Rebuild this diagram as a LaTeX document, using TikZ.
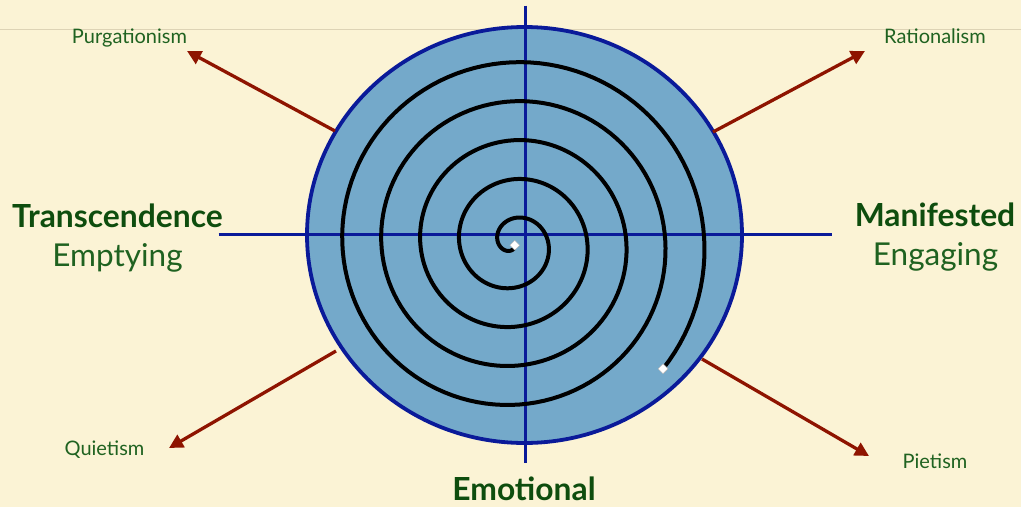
\documentclass[tikz,border=0pt]{standalone}
\usepackage{fontspec}
\setmainfont{Lato}
\usetikzlibrary{arrows.meta,shapes.geometric}
\definecolor{bg}{HTML}{FBF3D5}
\definecolor{rule}{HTML}{DDD3B5}
\definecolor{disc}{HTML}{74A9CA}
\definecolor{navy}{HTML}{0A1A99}
\definecolor{arrowred}{HTML}{8E1400}
\definecolor{greenA}{HTML}{1F6220}
\definecolor{greenB}{HTML}{0E4D0E}
\tikzset{
  smalllabel/.style={anchor=base, inner sep=0pt, text=greenA, font=\fontsize{20}{24}\selectfont},
  biglabel/.style={anchor=base, inner sep=0pt, text=greenA, font=\fontsize{31.5}{36}\selectfont},
  boldlabel/.style={anchor=base, inner sep=0pt, text=greenB, font=\fontsize{31.8}{36}\selectfont\bfseries},
  ray/.style={draw=arrowred, line width=3.3pt, -{Triangle[length=14pt,width=14pt]}},
  axis/.style={draw=navy, line width=3pt},
  marker/.style={diamond, draw=gray!60, fill=white, inner sep=0pt, minimum size=10pt, line width=0.4pt}
}
\begin{document}
\begin{tikzpicture}[x=1pt,y=-1pt]
\useasboundingbox (0,0) rectangle (1021,507);
\fill[bg] (0,0) rectangle (1021,507);
\draw[rule, line width=1.5pt] (0,29.5) -- (1021,29.5);

% disc
\filldraw[fill=disc, draw=navy, line width=3.8pt] (524.5,235) ellipse [x radius=217.5, y radius=208];

% axes
\coordinate (hl) at (218.5,234.3);
\coordinate (hr) at (832,234.3);
\coordinate (vt) at (525.8,5.7);
\coordinate (vb) at (525.8,463);
\draw[axis] (hl) -- (hr);
\draw[axis] (vt) -- (vb);

% spiral
\draw[black, line width=4pt, line join=round, line cap=round]
  plot[domain=60:1840, samples=600, variable=\t]
  ({513.6+0.108333*(\t-38.8)*cos(\t)}, {243.3+0.108333*(\t-38.8)*sin(\t)});
\node[marker] (sstart) at ({513.6+0.108333*(60-38.8)*cos(60)}, {243.3+0.108333*(60-38.8)*sin(60)}) {};
\node[marker] (send) at ({513.6+0.108333*(1840-38.8)*cos(40)}, {243.3+0.108333*(1840-38.8)*sin(40)}) {};

% arrows
\coordinate (purgS) at (335,131);
\coordinate (purgT) at (187,51);
\coordinate (ratS) at (713,132);
\coordinate (ratT) at (865,51);
\coordinate (quiS) at (336,351);
\coordinate (quiT) at (169,448);
\coordinate (pieS) at (702,359);
\coordinate (pieT) at (869,456);
\draw[ray] (purgS) -- (purgT);
\draw[ray] (ratS) -- (ratT);
\draw[ray] (quiS) -- (quiT);
\draw[ray] (pieS) -- (pieT);

% labels
\node[smalllabel] (purg) at (129.5,43) {Purgationism};
\node[smalllabel] (rat) at (935,43) {Rationalism};
\node[smalllabel] (qui) at (104.5,455) {Quietism};
\node[smalllabel] (pie) at (935,468) {Pietism};
\node[boldlabel] (trans) at (117.5,227) {Transcendence};
\node[biglabel] (empt) at (117.5,266) {Emptying};
\node[boldlabel] (mani) at (935,226) {Manifested};
\node[biglabel] (enga) at (935.5,265) {Engaging};
\node[boldlabel] (emo) at (524,500) {Emotional};
\end{tikzpicture}
\end{document}
